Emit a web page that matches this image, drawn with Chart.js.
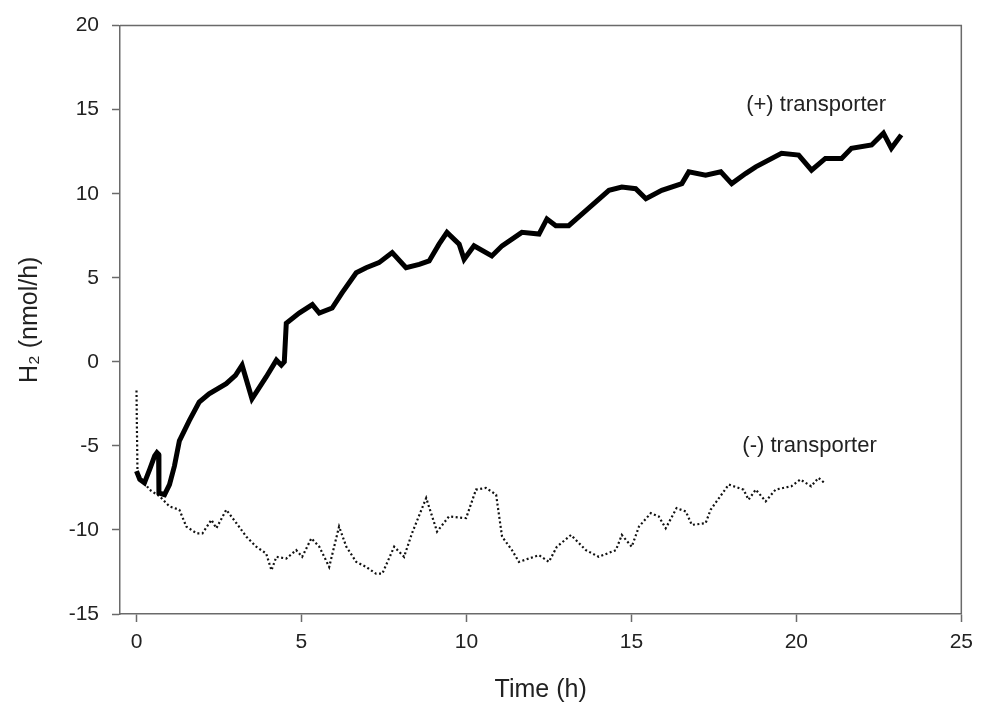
<!DOCTYPE html>
<html>
<head>
<meta charset="utf-8">
<script src="https://cdn.jsdelivr.net/npm/chart.js@4/dist/chart.umd.min.js"></script>
<style>
  html, body { margin: 0; padding: 0; background: #fff; }
  #wrap { width: 981px; height: 706px; }
</style>
</head>
<body>
<div id="wrap"><canvas id="h2-chart"></canvas></div>
<script>
// (+) transporter trace, time in h, H2 in nmol/h
const plusTime = [0, 0.1, 0.24, 0.4, 0.55, 0.62, 0.67, 0.68, 0.85, 1.0, 1.15, 1.3, 1.6, 1.9, 2.2, 2.72, 3.0, 3.2, 3.5, 3.93,
  4.24, 4.39, 4.48, 4.54, 4.93, 5.33, 5.54, 5.93, 6.23, 6.66, 6.96, 7.35, 7.75, 8.17, 8.57, 8.87, 9.17, 9.41, 9.78, 9.93,
  10.23, 10.77, 11.08, 11.68, 12.2, 12.44, 12.71, 13.1, 13.62, 14.32, 14.71, 15.13, 15.44, 15.92, 16.53, 16.74, 17.25, 17.71,
  18.04, 18.46, 18.77, 19.55, 20.07, 20.46, 20.88, 21.37, 21.67, 22.28, 22.64, 22.88, 23.18];
const plusH2 = [-6.5, -7.0, -7.2, -6.4, -5.6, -5.4, -5.5, -7.8, -7.9, -7.3, -6.2, -4.7, -3.5, -2.4, -1.9, -1.3, -0.8, -0.2, -2.2, -0.9,
  0.1, -0.2, 0.0, 2.3, 2.9, 3.4, 2.9, 3.2, 4.1, 5.3, 5.6, 5.9, 6.5, 5.6, 5.8, 6.0, 7.0, 7.7, 7.0, 6.1,
  6.9, 6.3, 6.9, 7.7, 7.6, 8.5, 8.1, 8.1, 9.0, 10.2, 10.4, 10.3, 9.7, 10.2, 10.6, 11.3, 11.1, 11.3,
  10.6, 11.2, 11.6, 12.4, 12.3, 11.4, 12.1, 12.1, 12.7, 12.9, 13.6, 12.7, 13.5];

// (-) transporter trace
const minusTime = [0, 0.01, 0.02, 0.03, 0.39, 0.7, 1.0, 1.3, 1.51, 1.82, 2.0, 2.27, 2.42, 2.72, 3.03, 3.33, 3.63, 3.93, 4.09, 4.24,
  4.54, 4.84, 5.02, 5.3, 5.54, 5.84, 6.14, 6.36, 6.66, 6.96, 7.26, 7.45, 7.81, 8.11, 8.35, 8.78, 9.11, 9.47, 9.99, 10.29,
  10.59, 10.9, 11.08, 11.38, 11.59, 12.2, 12.5, 12.74, 13.17, 13.62, 14.01, 14.53, 14.71, 15.01, 15.23, 15.59, 15.83, 16.04,
  16.37, 16.65, 16.83, 17.25, 17.4, 17.95, 18.4, 18.55, 18.77, 19.07, 19.37, 19.85, 20.12, 20.45, 20.67, 20.85];
const minusH2 = [-1.7, -3.5, -5.0, -6.6, -7.6, -8.0, -8.6, -8.8, -9.8, -10.2, -10.2, -9.4, -9.9, -8.8, -9.6, -10.4, -11.0, -11.4, -12.4, -11.6,
  -11.7, -11.2, -11.6, -10.5, -11.0, -12.2, -9.8, -11.0, -11.9, -12.2, -12.6, -12.6, -11.0, -11.6, -10.2, -8.1, -10.1, -9.2, -9.3, -7.6,
  -7.5, -7.9, -10.4, -11.2, -11.9, -11.5, -11.9, -11.0, -10.3, -11.2, -11.6, -11.2, -10.3, -11.0, -9.8, -9.0, -9.2, -9.9,
  -8.7, -8.9, -9.7, -9.6, -8.8, -7.3, -7.6, -8.2, -7.6, -8.3, -7.6, -7.4, -7.0, -7.4, -6.9, -7.2];

const xTicks = [0, 5, 10, 15, 20, 25];
const yTicks = [-15, -10, -5, 0, 5, 10, 15, 20];

const labels = [
  { text: "(+) transporter", x: 20.6, y: 15.3 },
  { text: "(-) transporter", x: 20.4, y: -5.0 },
];

const axisGray = "#6a6a6a";
const textColor = "#222";
const fontFamily = "'Liberation Sans', Arial, sans-serif";

const toPoints = (xs, ys) => xs.map((x, i) => ({ x: x, y: ys[i] }));

// box round the plot + the two curve labels
const framePlugin = {
  id: "frame",
  afterDraw(chart) {
    const ctx = chart.ctx;
    const a = chart.chartArea;
    ctx.save();
    ctx.strokeStyle = axisGray;
    ctx.lineWidth = 1.5;
    ctx.beginPath();
    ctx.moveTo(a.left, a.top);
    ctx.lineTo(a.right, a.top);
    ctx.lineTo(a.right, a.bottom);
    ctx.stroke();

    ctx.fillStyle = textColor;
    ctx.font = "22px " + fontFamily;
    ctx.textAlign = "center";
    ctx.textBaseline = "middle";
    labels.forEach(l => {
      ctx.fillText(l.text, chart.scales.x.getPixelForValue(l.x), chart.scales.y.getPixelForValue(l.y));
    });
    ctx.restore();
  },
};

const ctx = document.getElementById("h2-chart");

new Chart(ctx, {
  type: "scatter",
  data: {
    datasets: [
      {
        label: "(+) transporter",
        data: toPoints(plusTime, plusH2),
        showLine: true,
        borderColor: "#000",
        borderWidth: 5,
        pointRadius: 0,
        tension: 0,
      },
      {
        label: "(-) transporter",
        data: toPoints(minusTime, minusH2),
        showLine: true,
        borderColor: "#111",
        borderWidth: 2.2,
        borderDash: [2, 2.5],
        pointRadius: 0,
        tension: 0,
      },
    ],
  },
  options: {
    responsive: true,
    maintainAspectRatio: false,
    animation: false,
    layout: { padding: { top: 25, right: 18, left: 0, bottom: 0 } },
    plugins: {
      legend: { display: false },
      tooltip: { enabled: false },
    },
    scales: {
      x: {
        type: "linear",
        min: -0.5,
        max: 25,
        afterBuildTicks: s => { s.ticks = xTicks.map(v => ({ value: v })); },
        afterFit: s => { s.height = 92; },
        grid: { drawOnChartArea: false, drawTicks: true, tickLength: 8, tickColor: axisGray, tickWidth: 1.5 },
        border: { display: true, color: axisGray, width: 1.5 },
        ticks: { color: textColor, font: { size: 21, family: fontFamily }, padding: 8, maxRotation: 0 },
        title: { display: true, text: "Time (h)", color: textColor, font: { size: 25, family: fontFamily }, padding: { top: 0, bottom: 1 } },
      },
      y: {
        type: "linear",
        min: -15,
        max: 20,
        afterBuildTicks: s => { s.ticks = yTicks.map(v => ({ value: v })); },
        afterFit: s => { s.width = 120; },
        grid: { drawOnChartArea: false, drawTicks: true, tickLength: 8, tickColor: axisGray, tickWidth: 1.5 },
        border: { display: true, color: axisGray, width: 1.5 },
        ticks: { color: textColor, font: { size: 21, family: fontFamily }, padding: 13 },
        title: { display: true, text: "H\u2082 (nmol/h)", color: textColor, font: { size: 25, family: fontFamily }, padding: { top: 15, bottom: 0 } },
      },
    },
  },
  plugins: [framePlugin],
});
</script>
</body>
</html>
